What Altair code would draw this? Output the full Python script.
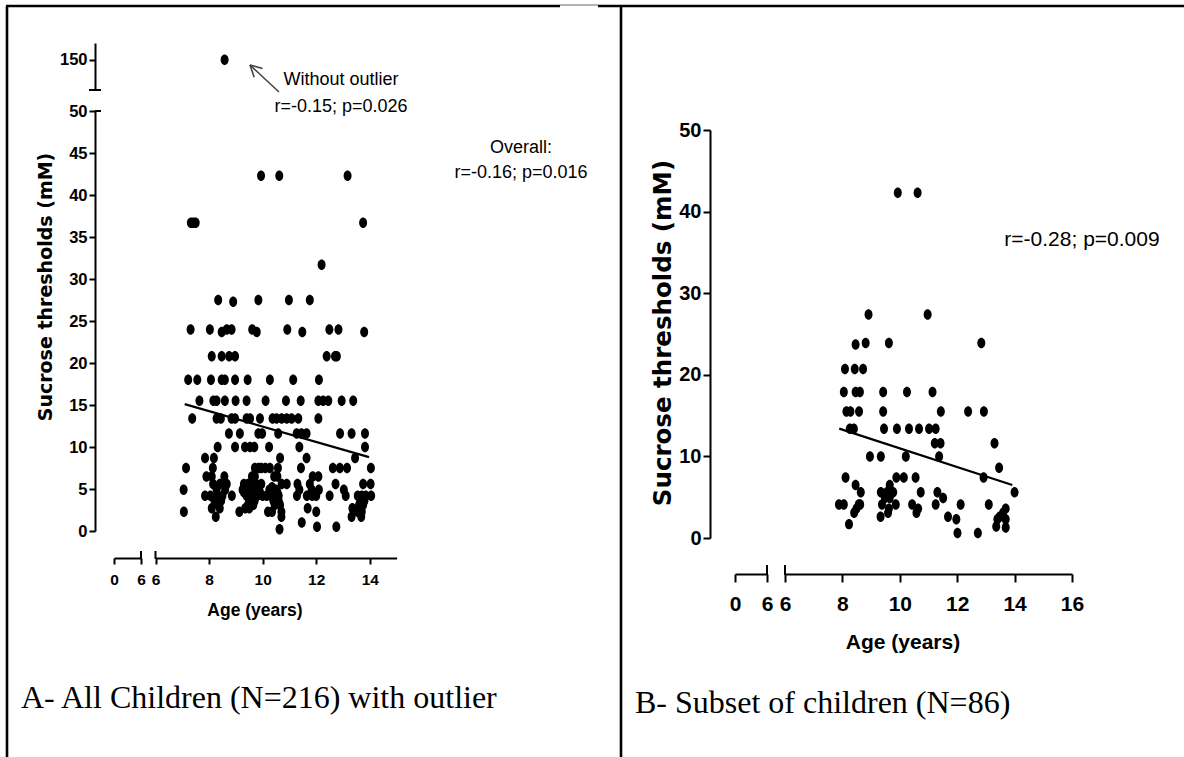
import altair as alt
import pandas as pd

# ---------------- Panel A: all children (N=216) ----------------
a_levels = [42.3, 36.7, 31.7, 27.5, 27.3, 24.0, 23.7, 20.8, 18.0, 15.5, 13.4, 11.6,
            10.0, 8.7, 7.5, 6.5, 5.6, 5.2, 4.9, 4.6, 4.2, 3.6, 3.1, 2.7, 2.3, 1.7,
            1.0, 0.5, 0.2]
a_ages = [
    [9.94, 10.62, 13.17],
    [7.32, 7.41, 7.50, 13.75],
    [12.20],
    [8.34, 9.84, 10.98, 11.76],
    [8.90],
    [7.31, 8.03, 8.66, 8.84, 9.61, 10.92, 12.49, 12.83],
    [8.47, 9.78, 11.48, 13.79],
    [8.10, 8.47, 8.75, 8.97, 12.39, 12.70, 12.77],
    [7.22, 7.56, 8.07, 8.47, 8.59, 8.97, 9.44, 10.27, 11.14, 12.10],
    [7.64, 8.16, 8.28, 8.59, 8.99, 9.40, 10.11, 10.87, 11.42, 12.08, 12.26, 12.45, 12.95, 13.38],
    [7.37, 8.28, 8.44, 8.84, 8.97, 9.40, 9.53, 9.90, 10.37, 10.52, 10.71, 10.90, 11.08, 11.33, 12.08],
    [8.74, 9.15, 9.84, 9.98, 10.58, 11.27, 11.45, 11.64, 12.89, 13.32, 13.82],
    [8.32, 8.97, 9.34, 9.53, 9.69, 10.24, 11.37, 13.82],
    [7.85, 8.18, 10.65, 11.64, 13.45],
    [7.14, 8.14, 9.71, 9.85, 9.95, 10.10, 10.27, 10.57, 11.43, 12.62, 12.88, 13.15, 14.04],
    [7.90, 8.10, 8.57, 9.60, 9.71, 10.43, 10.55, 11.87, 12.08],
    [8.15, 8.40, 8.60, 8.66, 9.30, 9.45, 9.60, 9.75, 9.95, 10.71, 10.90, 11.30, 11.76, 12.72, 13.75, 14.03],
    [9.65, 10.35],
    [7.05, 8.28, 8.60, 9.25, 9.40, 9.55, 9.70, 9.85, 10.25, 10.40, 10.50, 11.37, 11.83, 12.10, 13.03],
    [9.30, 9.90, 10.55],
    [7.85, 8.05, 8.30, 8.50, 8.85, 9.40, 9.50, 9.60, 9.80, 10.00, 10.15, 10.30, 10.60, 11.28,
     11.65, 11.85, 12.00, 12.50, 13.10, 13.55, 13.70, 13.85, 14.05],
    [8.20, 8.45, 9.50, 9.70, 10.40, 10.60, 13.65, 13.80],
    [8.35, 9.45, 9.65, 10.45, 10.65, 13.60, 13.75],
    [8.10, 8.40, 9.35, 9.50, 11.68, 13.35, 13.60],
    [7.06, 9.13, 10.20, 10.35, 10.70, 12.00, 13.55, 13.70],
    [8.25, 10.70, 13.32, 13.68],
    [11.46],
    [12.03, 12.75],
    [10.63],
]
a_out_age = [8.58]
a_out_suc = [150.0]
a_fit_age = [7.09, 13.97]
a_fit_suc = [15.1, 8.8]

# ---------------- Panel B: subset (N=86) ----------------
b_levels = [42.3, 27.4, 23.7, 23.9, 20.7, 17.9, 15.5, 13.4, 11.6, 10.0, 8.6, 7.4, 6.5,
            5.6, 4.9, 4.1, 3.6, 3.1, 2.6, 2.3, 1.7, 1.4, 1.3, 0.6]
b_ages = [
    [9.93, 10.62],
    [8.91, 10.97],
    [8.46],
    [8.81, 9.62, 12.84],
    [8.09, 8.43, 8.72],
    [8.05, 8.46, 8.61, 9.42, 10.25, 11.14],
    [8.14, 8.28, 8.58, 9.42, 11.43, 12.38, 12.93],
    [8.26, 8.40, 9.45, 9.90, 10.32, 10.67, 11.02, 11.25],
    [11.22, 11.42, 13.30],
    [8.96, 9.34, 10.21, 11.37],
    [13.46],
    [8.11, 9.88, 10.14, 10.55, 12.92],
    [8.46, 9.65],
    [8.64, 9.34, 9.55, 9.77, 10.73, 11.31, 14.00],
    [9.48, 9.65, 11.51],
    [7.88, 8.05, 8.57, 8.62, 9.38, 9.86, 10.43, 11.25, 12.12, 13.10],
    [8.49, 9.62, 10.64, 13.69],
    [8.41, 9.59, 10.58, 13.60],
    [9.33, 11.68, 13.48],
    [11.97, 13.40, 13.69],
    [8.23],
    [13.36],
    [13.69],
    [12.01, 12.72],
]
b_fit_age = [7.89, 13.92]
b_fit_suc = [13.4, 6.5]

# ---------------- tick labels / texts ----------------
a_x_ticks = [6, 8, 10, 12, 14]
a_x0_ticks = [0, 6]
a_y_ticks = [0, 5, 10, 15, 20, 25, 30, 35, 40, 45, 50]
a_ytop_ticks = [150]
b_x_ticks = [6, 8, 10, 12, 14, 16]
b_x0_ticks = [0, 6]
b_y_ticks = [0, 10, 20, 30, 40, 50]

y_title = "Sucrose thresholds (mM)"
x_title = "Age (years)"
caption_a = "A- All Children (N=216) with outlier"
caption_b = "B- Subset of children (N=86)"
note_a1 = ["Without outlier", "r=-0.15; p=0.026"]
note_a2 = ["Overall:", "r=-0.16; p=0.016"]
note_b = "r=-0.28; p=0.009"


def flatten(levels, ages):
    rows = []
    for lv, ag in zip(levels, ages):
        for a in ag:
            rows.append({"age": a, "suc": lv})
    return pd.DataFrame(rows)


dfA = flatten(a_levels, a_ages)
dfB = flatten(b_levels, b_ages)
dfOut = pd.DataFrame({"age": a_out_age, "suc": a_out_suc})
dfFitA = pd.DataFrame({"age": a_fit_age, "suc": a_fit_suc})
dfFitB = pd.DataFrame({"age": b_fit_age, "suc": b_fit_suc})

NARROW = "Liberation Sans Narrow, Arial Narrow, Liberation Sans, Arial, sans-serif"
WIDE = "DejaVu Sans, Verdana, sans-serif"
SERIF = "Liberation Serif, Times New Roman, serif"

ELL = "M0,-1A0.76,1 0 1,1 0,1A0.76,1 0 1,1 0,-1Z"

# scales (pixel ranges inside the 1184x757 page)
XA = alt.Scale(domain=[6, 15], range=[155.5, 396.6], nice=False, zero=False)
XA0 = alt.Scale(domain=[0, 6], range=[114, 141], nice=False, zero=False)
YA = alt.Scale(domain=[0, 50], range=[531, 111], nice=False, zero=False)
YAT = alt.Scale(domain=[132, 160], range=[90, 43], nice=False, zero=False)
XB = alt.Scale(domain=[6, 16], range=[785, 1072], nice=False, zero=False)
XB0 = alt.Scale(domain=[0, 6], range=[735, 767], nice=False, zero=False)
YB = alt.Scale(domain=[0, 50], range=[538, 130], nice=False, zero=False)


def axis(values, orient, offset, size, tick, pad):
    return alt.Axis(values=values, orient=orient, offset=offset, title=None,
                    labelFont=NARROW, labelFontWeight="bold", labelFontSize=size,
                    labelColor="black", domainColor="black", domainWidth=2,
                    tickColor="black", tickWidth=2, tickSize=tick, labelPadding=pad,
                    grid=False, format="d", labelFlush=False, labelOverlap=False)


pts = dict(shape=ELL, filled=True, size=110, color="black", opacity=1, strokeWidth=0)

# ----- Panel A layers -----
a_points = alt.Chart(dfA).mark_point(**pts).encode(
    x=alt.X("age:Q", scale=XA, axis=axis(a_x_ticks, "bottom", -199, 15.5, 6, 8)),
    y=alt.Y("suc:Q", scale=YA, axis=axis(a_y_ticks, "left", -95, 16.5, 6, 2)),
)
a_outlier = alt.Chart(dfOut).mark_point(**pts).encode(
    x=alt.X("age:Q", scale=XA, axis=None),
    y=alt.Y("suc:Q", scale=YAT, axis=axis(a_ytop_ticks, "left", -95, 16.5, 6, 2)),
)
a_fit = alt.Chart(dfFitA).mark_line(color="black", strokeWidth=2.2).encode(
    x=alt.X("age:Q", scale=XA, axis=None),
    y=alt.Y("suc:Q", scale=YA, axis=None),
)
a_x0 = alt.Chart(pd.DataFrame({"age": a_x0_ticks})).mark_point(opacity=0).encode(
    x=alt.X("age:Q", scale=XA0, axis=axis(a_x0_ticks, "bottom", -199, 15.5, 6, 8)),
    y=alt.value(0),
)

# ----- Panel B layers -----
b_points = alt.Chart(dfB).mark_point(**pts).encode(
    x=alt.X("age:Q", scale=XB, axis=axis(b_x_ticks, "bottom", -183, 21, 8, 11)),
    y=alt.Y("suc:Q", scale=YB, axis=axis(b_y_ticks, "left", -710, 20, 7, 2)),
)
b_fit = alt.Chart(dfFitB).mark_line(color="black", strokeWidth=2.2).encode(
    x=alt.X("age:Q", scale=XB, axis=None),
    y=alt.Y("suc:Q", scale=YB, axis=None),
)
b_x0 = alt.Chart(pd.DataFrame({"age": b_x0_ticks})).mark_point(opacity=0).encode(
    x=alt.X("age:Q", scale=XB0, axis=axis(b_x0_ticks, "bottom", -183, 21, 8, 11)),
    y=alt.value(0),
)

# ----- decoration segments (frame, axis break caps, arrow) -----
segs = pd.DataFrame([
    # frame
    {"x": 7, "y": 6, "x2": 7, "y2": 757, "w": 2.6, "c": "black"},
    {"x": 6, "y": 6, "x2": 560, "y2": 6, "w": 2.6, "c": "black"},
    {"x": 560, "y": 5, "x2": 598, "y2": 5, "w": 1.2, "c": "#666666"},
    {"x": 598, "y": 6, "x2": 1184, "y2": 6, "w": 2.6, "c": "black"},
    {"x": 621, "y": 6, "x2": 621, "y2": 757, "w": 2.6, "c": "black"},
    # axis break caps
    {"x": 89, "y": 90, "x2": 101, "y2": 90, "w": 2, "c": "black"},
    {"x": 95, "y": 111, "x2": 101, "y2": 111, "w": 2, "c": "black"},
    {"x": 141, "y": 551, "x2": 141, "y2": 559, "w": 2, "c": "black"},
    {"x": 155.5, "y": 551, "x2": 155.5, "y2": 559, "w": 2, "c": "black"},
    {"x": 767, "y": 565, "x2": 767, "y2": 575, "w": 2, "c": "black"},
    {"x": 785, "y": 565, "x2": 785, "y2": 575, "w": 2, "c": "black"},
    # arrow towards outlier
    {"x": 279, "y": 92, "x2": 250, "y2": 65, "w": 1.6, "c": "#444444"},
    {"x": 250, "y": 65, "x2": 254.2, "y2": 77.3, "w": 1.6, "c": "#444444"},
    {"x": 250, "y": 65, "x2": 262.6, "y2": 68.4, "w": 1.6, "c": "#444444"},
])
seg_layer = alt.Chart(segs).mark_rule().encode(
    x=alt.X("x:Q", scale=None, axis=None),
    y=alt.Y("y:Q", scale=None, axis=None),
    x2="x2:Q", y2="y2:Q",
    strokeWidth=alt.StrokeWidth("w:Q", scale=None, legend=None),
    color=alt.Color("c:N", scale=None, legend=None),
)

one = pd.DataFrame({"k": [0]})


def txt(text, x, y, font, size, weight="normal", angle=0, align="center", baseline="middle"):
    kw = dict(text=text, font=font, fontSize=size, fontWeight=weight, align=align,
              baseline=baseline, color="black")
    if angle:
        kw["angle"] = angle
    return alt.Chart(one).mark_text(**kw).encode(x=alt.value(x), y=alt.value(y))


texts = [
    txt(y_title, 46, 287, WIDE, 19, "bold", 270),
    txt(y_title, 664, 333, WIDE, 24.5, "bold", 270),
    txt(x_title, 255, 611, NARROW, 17.5, "bold"),
    txt(x_title, 903, 643, NARROW, 21, "bold"),
    txt(note_a1[0], 341, 80, NARROW, 18),
    txt(note_a1[1], 341, 107, NARROW, 18),
    txt(note_a2[0], 521, 148, NARROW, 18),
    txt(note_a2[1], 521, 173, NARROW, 18),
    txt(note_b, 1082, 240, NARROW, 21),
    txt(caption_a, 21, 708, SERIF, 32, align="left", baseline="alphabetic"),
    txt(caption_b, 635, 713, SERIF, 32, align="left", baseline="alphabetic"),
]

chart = alt.layer(
    seg_layer, a_x0, a_points, a_outlier, a_fit, b_x0, b_points, b_fit, *texts
).resolve_scale(
    x="independent", y="independent"
).properties(
    width=1184, height=757, padding=0,
    autosize=alt.AutoSizeParams(type="none"),
    background="white",
).configure_view(stroke=None)

chart.save("out.html", embed_options={"renderer": "svg", "actions": False})
